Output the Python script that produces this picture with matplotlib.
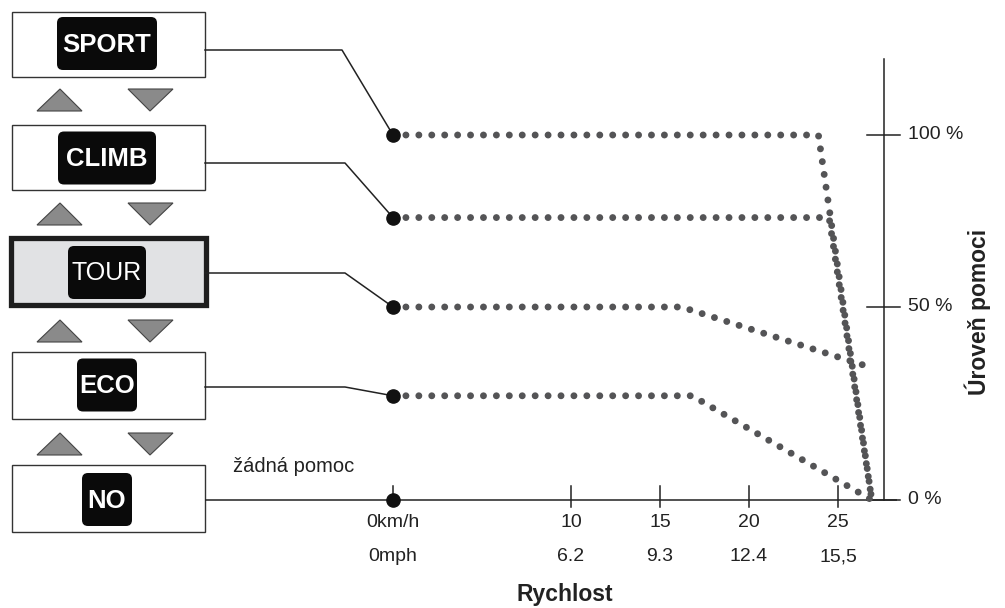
import numpy as np
import matplotlib
matplotlib.use('Agg')
import matplotlib.pyplot as plt
from matplotlib.patches import Rectangle, FancyBboxPatch, Polygon

plt.rcParams['font.family'] = ['Liberation Sans', 'DejaVu Sans']

# assist modes, top to bottom
modes = ['SPORT', 'CLIMB', 'TOUR', 'ECO', 'NO']

# assist curves: speed (km/h) vs assist level (%)
sport_kmh = [0, 23.9, 26.9]
sport_pct = [100, 100, 0]
climb_kmh = [0, 24.5, 26.9]
climb_pct = [76, 76, 0]
tour_kmh = [0, 16.2, 26.4]
tour_pct = [50, 50, 35]
eco_kmh = [0, 16.8, 26.9]
eco_pct = [27, 27, 0]

kmh_ticks = [0, 10, 15, 20, 25]
kmh_labels = ['0km/h', '10', '15', '20', '25']
mph_labels = ['0mph', '6.2', '9.3', '12.4', '15,5']
pct_ticks = [0, 50, 100]
pct_labels = ['0 %', '50 %', '100 %']

W, H = 1005, 608
X0, PXU = 393, 17.8           # pixel of 0 km/h, pixels per km/h
Y0 = 500                       # pixel row of 0 %

# the drawing is not to scale in y: 0-50 % and 50-100 % have different heights
PCT = [-1000, 0, 50, 100, 1000]
PX = [-3860, 0, 193, 365, 365 + 900 * 3.44]
def fwd(v):
    return np.interp(v, PCT, PX)
def inv(p):
    return np.interp(p, PX, PCT)

fig = plt.figure(figsize=(W / 100, H / 100), dpi=100)

ov = fig.add_axes([0, 0, 1, 1], zorder=0)
ov.set_xlim(0, W)
ov.set_ylim(H, 0)
ov.axis('off')

ax = fig.add_axes([0, 0, 1, 1], zorder=1)
ax.set_yscale('function', functions=(fwd, inv))
ax.set_xlim(-X0 / PXU, (W - X0) / PXU)
ax.set_ylim(float(inv(-(H - Y0))), float(inv(Y0)))
ax.axis('off')

def px_x(px):
    return (px - X0) / PXU
def px_y(dpx):
    return float(inv(dpx))

axc = '#222222'
# baseline and right axis
x_right = px_x(884)
ax.plot([px_x(205), px_x(897)], [0, 0], color=axc, lw=1.1, solid_capstyle='butt')
ax.plot([x_right, x_right], [0, 122], color=axc, lw=1.1)
for k in kmh_ticks:
    lo = 0 if k == 0 else px_y(-7)
    ax.plot([k, k], [lo, px_y(14)], color=axc, lw=1.1)
ax.plot([0], [0], 'o', color='#111111', ms=9.5)
for p in pct_ticks:
    ax.plot([px_x(867), px_x(900)], [p, p], color=axc, lw=1.1)

for k, a, b in zip(kmh_ticks, kmh_labels, mph_labels):
    ax.annotate(a, (k, 0), xytext=(0, -23), textcoords='offset pixels',
                ha='center', va='center', fontsize=14, color='#222222')
    ax.annotate(b, (k, 0), xytext=(0, -57), textcoords='offset pixels',
                ha='center', va='center', fontsize=14, color='#222222')
for p, lab in zip(pct_ticks, pct_labels):
    ax.annotate(lab, (x_right, p), xytext=(24, 0), textcoords='offset pixels',
                ha='left', va='center', fontsize=14, color='#222222')

# dotted assist curves
curves = [(sport_kmh, sport_pct), (climb_kmh, climb_pct),
          (tour_kmh, tour_pct), (eco_kmh, eco_pct)]
for xs, ys in curves:
    ax.plot(xs, ys, color='#545456', lw=5.0, linestyle=(0, (0.001, 1.86)),
            dash_capstyle='round')
    ax.plot(xs[0], ys[0], 'o', color='#111111', ms=9.5, zorder=5)

# mode boxes on the left (pixel layout)
box_top = [12, 125, 235, 352, 465]
box_bot = [77, 190, 307, 419, 532]
badge_w = [100, 98, 78, 60, 50]
badge_cy = [43.5, 158, 272.5, 385, 499.5]
conn_y = [50, 163, 273, 387, 501]
knee_x = [342, 345, 345, 345]

for i, m in enumerate(modes):
    if m == 'TOUR':
        ov.add_patch(Rectangle((10.5, box_top[i] + 2.5), 195, box_bot[i] - box_top[i] - 5,
                               facecolor='#e1e2e4', edgecolor='#1e1e1e', lw=3.8))
    else:
        ov.add_patch(Rectangle((12, box_top[i]), 193, box_bot[i] - box_top[i],
                               facecolor='white', edgecolor='#333333', lw=1.0))
    bw = badge_w[i]
    ov.add_patch(FancyBboxPatch((107 - bw / 2, badge_cy[i] - 26.5), bw, 53,
                                boxstyle='round,pad=0,rounding_size=6',
                                facecolor='#0a0a0a', edgecolor='none'))
    ov.text(107, badge_cy[i] + 1, m, ha='center', va='center', color='white',
            fontsize=18.5 if m != 'TOUR' else 18,
            fontweight='bold' if m != 'TOUR' else 'normal')

# connectors from the boxes to the curve starts
for i, (xs, ys) in enumerate(curves):
    d = ax.transData.transform((xs[0], ys[0]))
    dx, dy = ov.transData.inverted().transform(d)
    ov.plot([205, knee_x[i], dx], [conn_y[i], conn_y[i], dy], color='#222222', lw=1.1)

# up / down arrows between boxes
for top in [89, 203, 320, 433]:
    ov.add_patch(Polygon([[37, top + 22], [82, top + 22], [60, top]], closed=True,
                         facecolor='#8a8a8a', edgecolor='#444444', lw=0.8))
    ov.add_patch(Polygon([[128, top], [173, top], [150, top + 22]], closed=True,
                         facecolor='#8a8a8a', edgecolor='#444444', lw=0.8))

ov.text(233, 467, 'žádná pomoc', ha='left', va='center', fontsize=14.5, color='#222222')
ov.text(565, 594, 'Rychlost', ha='center', va='center', fontsize=16.5,
        fontweight='bold', color='#222222')
ov.text(978, 312, 'Úroveň pomoci', ha='center', va='center', rotation=90,
        fontsize=16.5, fontweight='bold', color='#222222')

fig.savefig('out.png', dpi=100)
